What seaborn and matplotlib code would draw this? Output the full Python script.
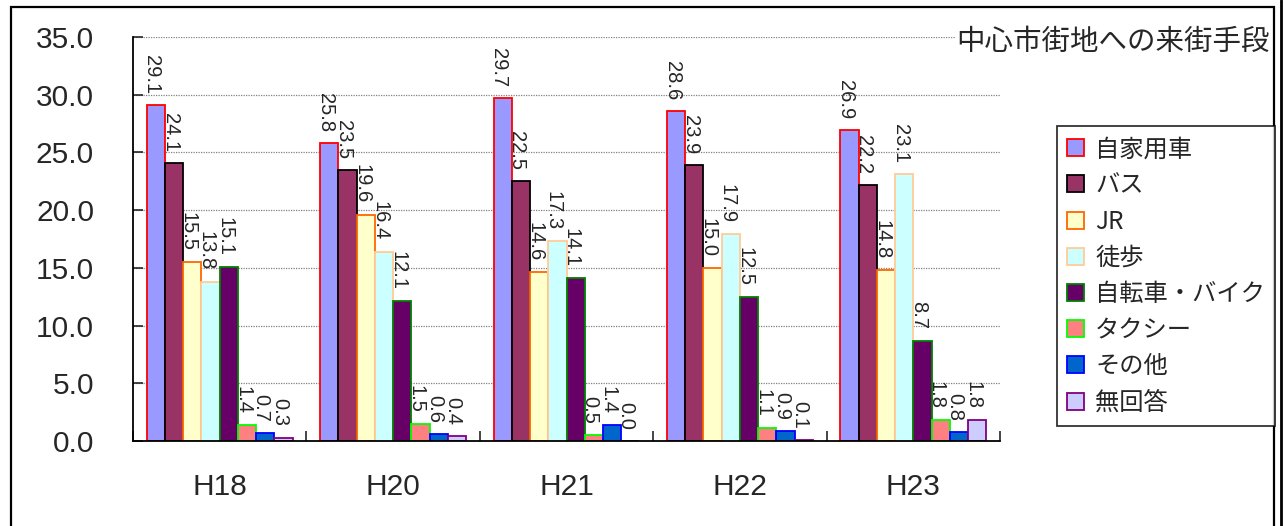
import pandas as pd
import seaborn as sns
import matplotlib.pyplot as plt
from matplotlib.patches import Rectangle
from matplotlib.lines import Line2D

# Data
years = ["H18", "H20", "H21", "H22", "H23"]
modes = ["自家用車", "バス", "JR", "徒歩", "自転車・バイク", "タクシー", "その他", "無回答"]
car = [29.1, 25.8, 29.7, 28.6, 26.9]
bus = [24.1, 23.5, 22.5, 23.9, 22.2]
jr = [15.5, 19.6, 14.6, 15.0, 14.8]
walk = [13.8, 16.4, 17.3, 17.9, 23.1]
bike = [15.1, 12.1, 14.1, 12.5, 8.7]
taxi = [1.4, 1.5, 0.5, 1.1, 1.8]
other = [0.7, 0.6, 1.4, 0.9, 0.8]
no_answer = [0.3, 0.4, 0.0, 0.1, 1.8]

face_colors = ["#9999FF", "#993366", "#FFFFCC", "#CCFFFF",
               "#660066", "#FF8080", "#0066CC", "#CCCCFF"]
edge_colors = ["#FF0000", "#000000", "#FF6600", "#FFCC99",
               "#008000", "#00FF00", "#0000FF", "#800080"]

series = [car, bus, jr, walk, bike, taxi, other, no_answer]
rows = []
for mode, vals in zip(modes, series):
    for year, v in zip(years, vals):
        rows.append({"year": year, "mode": mode, "value": v})
df = pd.DataFrame(rows)

sns.set_style("white")
plt.rcParams["font.family"] = ["Liberation Sans", "Noto Sans CJK JP", "DejaVu Sans"]

fig = plt.figure(figsize=(12.86, 5.26), dpi=100)
ax = fig.add_axes([133 / 1286, 1 - 441 / 526, 867 / 1286, 404 / 526])

sns.barplot(data=df, x="year", y="value", hue="mode", hue_order=modes,
            order=years, palette=face_colors, saturation=1, width=0.84,
            ax=ax, legend=False)

# edge colours and value labels
for cont, ec in zip(ax.containers, edge_colors):
    for p in cont.patches:
        p.set_edgecolor(ec)
        p.set_linewidth(1.3)
        h = p.get_height()
        ax.annotate(f"{h:.1f}", (p.get_x() + p.get_width() / 2, h),
                    xytext=(-3, 8), textcoords="offset points",
                    rotation=270, ha="center", va="bottom", fontsize=14.5)

ax.set_ylim(0, 35)
ax.set_xlim(-0.5, 4.5)
ax.set_yticks([0, 5, 10, 15, 20, 25, 30, 35])
ax.set_yticklabels([f"{t:.1f}" for t in ax.get_yticks()], fontsize=21.5)
ax.set_xticks(range(len(years)))
ax.set_xticklabels(years, fontsize=21.5)
ax.set_xticks([-0.5, 0.5, 1.5, 2.5, 3.5, 4.5], minor=True)
ax.tick_params(axis="y", which="major", direction="in", length=7.2, width=1.2,
               pad=28, left=True)
ax.tick_params(axis="x", which="major", length=0, pad=23)
ax.tick_params(axis="x", which="minor", direction="in", length=7.2, width=1.2,
               bottom=True)
ax.set_xlabel("")
ax.set_ylabel("")

ax.yaxis.grid(True, linestyle=(0, (1, 1)), color="#808080", linewidth=0.9)
ax.set_axisbelow(True)
for s in ["top", "right"]:
    ax.spines[s].set_visible(False)
for s in ["left", "bottom"]:
    ax.spines[s].set_color("black")
    ax.spines[s].set_linewidth(1.3)

# legend
leg = fig.legend(handles=ax.containers, labels=modes, loc="upper left",
                 bbox_to_anchor=(1057 / 1286, 1 - 126 / 526),
                 frameon=True, fancybox=False, fontsize=17.5,
                 handlelength=0.7, handleheight=0.7, handletextpad=0.45,
                 labelspacing=0.42, borderpad=0.42, borderaxespad=0)
leg.get_frame().set_edgecolor("black")
leg.get_frame().set_linewidth(1.3)
for t in leg.get_texts():
    t.set_family(["Noto Sans CJK JP", "DejaVu Sans"])

# title in the corner
fig.text(1270 / 1286, 1 - 42 / 526, "中心市街地への来街手段", ha="right", va="center",
         fontsize=20.5, family=["Noto Sans CJK JP", "DejaVu Sans"],
         bbox=dict(facecolor="white", edgecolor="none", pad=1), zorder=5)

# outer border
fig.patches.append(Rectangle((11 / 1286, -0.05), (1274 - 11) / 1286, 1.05 - 7 / 526,
                             transform=fig.transFigure, fill=False,
                             edgecolor="black", linewidth=1.6))
fig.lines.append(Line2D([1281 / 1286, 1281 / 1286], [0, 1], transform=fig.transFigure,
                        color="black", linewidth=2))

fig.savefig("out.png", dpi=100)
